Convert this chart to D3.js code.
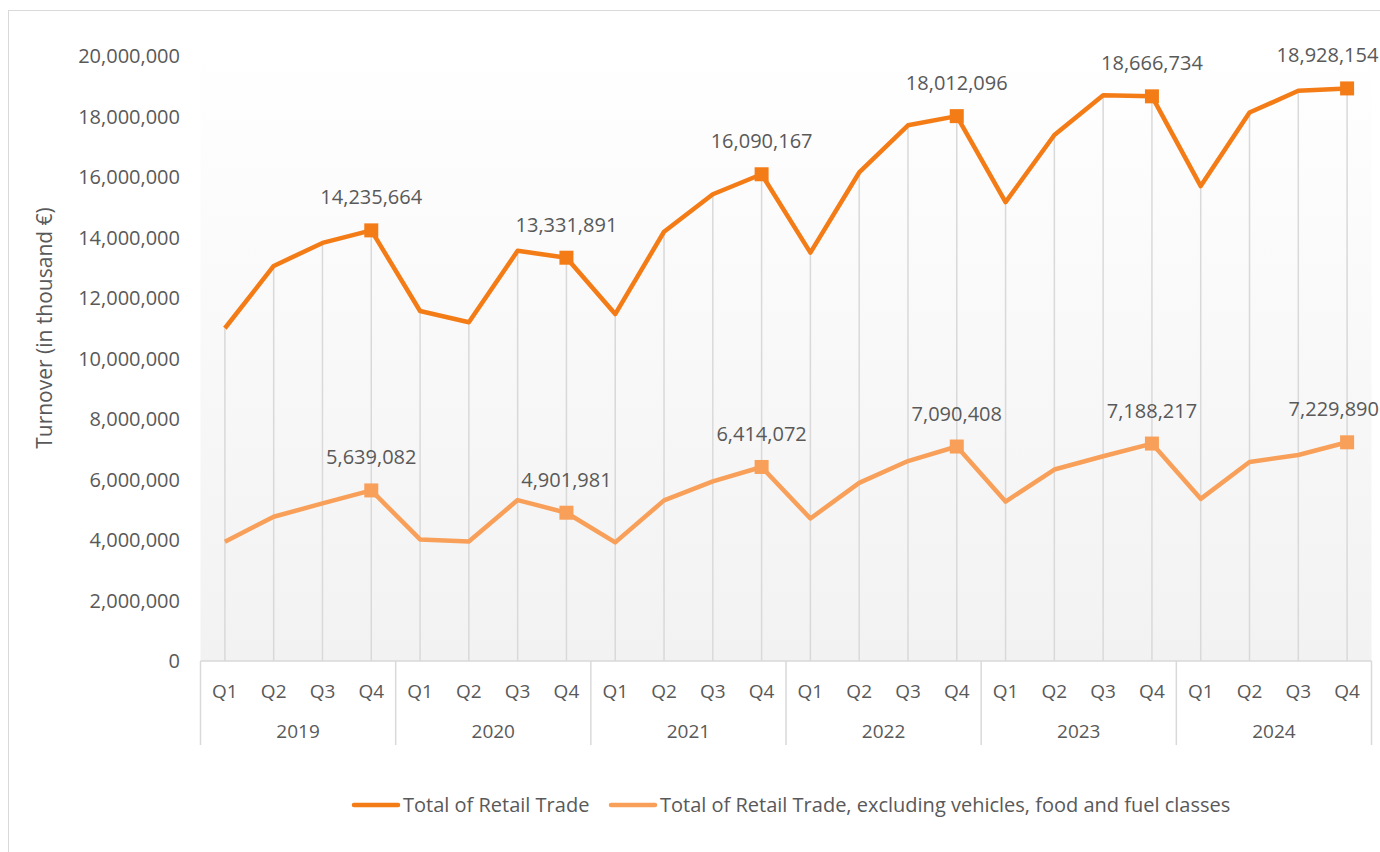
<!DOCTYPE html>
<html>
<head>
<meta charset="utf-8">
<script src="https://cdn.jsdelivr.net/npm/d3@7"></script>
<style>
	body { margin: 0; background: #fff; }
	text { font-family: "Open Sans", sans-serif; fill: #595959; }
</style>
</head>
<body>
<div id="chart"></div>
<script>
// data
const years = ["2019", "2020", "2021", "2022", "2023", "2024"];
const quarters = ["Q1", "Q2", "Q3", "Q4"];
const yTicks = [0, 2000000, 4000000, 6000000, 8000000, 10000000, 12000000, 14000000, 16000000, 18000000, 20000000];
const seriesNames = ["Total of Retail Trade", "Total of Retail Trade, excluding vehicles, food and fuel classes"];
const totalRetail = [
	11000000, 13060000, 13820000, 14235664,
	11570000, 11200000, 13560000, 13331891,
	11470000, 14190000, 15430000, 16090167,
	13500000, 16150000, 17710000, 18012096,
	15170000, 17390000, 18700000, 18666734,
	15700000, 18130000, 18850000, 18928154
];
const excludingClasses = [
	3940000, 4770000, 5210000, 5639082,
	4020000, 3950000, 5320000, 4901981,
	3920000, 5310000, 5940000, 6414072,
	4710000, 5890000, 6610000, 7090408,
	5270000, 6330000, 6770000, 7188217,
	5360000, 6580000, 6810000, 7229890
];

function main() {
	const W = 1380, H = 852;
	const plot = {left: 200.5, right: 1371.5, top: 56, bottom: 661};
	const colors = ["#f47c17", "#f8a05a"];

	const svg = d3.select("#chart").append("svg")
		.attr("width", W).attr("height", H);

	// chart border
	svg.append("rect")
		.attr("x", 8.5).attr("y", 10.5)
		.attr("width", W + 10).attr("height", H + 10)
		.attr("fill", "#fff").attr("stroke", "#d9d9d9");

	// keys for each quarter
	const keys = [];
	years.forEach(y => quarters.forEach(q => keys.push(y + " " + q)));

	const x = d3.scaleBand().domain(keys).range([plot.left, plot.right]);
	const xYear = d3.scaleBand().domain(years).range([plot.left, plot.right]);
	const y = d3.scaleLinear().domain([0, 20000000]).range([plot.bottom, plot.top]);
	const cx = k => x(k) + x.bandwidth() / 2;

	// plot background gradient
	const defs = svg.append("defs");
	const grad = defs.append("linearGradient").attr("id", "bg")
		.attr("x1", 0).attr("y1", 0).attr("x2", 0).attr("y2", 1);
	grad.append("stop").attr("offset", "0%").attr("stop-color", "#ffffff");
	grad.append("stop").attr("offset", "100%").attr("stop-color", "#f2f2f2");
	svg.append("rect")
		.attr("x", plot.left).attr("y", 40)
		.attr("width", plot.right - plot.left).attr("height", plot.bottom - 40)
		.attr("fill", "url(#bg)");

	// drop lines
	svg.append("g").selectAll("line")
		.data(keys)
		.join("line")
		.attr("x1", d => cx(d)).attr("x2", d => cx(d))
		.attr("y1", (d, i) => y(Math.max(totalRetail[i], excludingClasses[i])))
		.attr("y2", plot.bottom)
		.attr("stroke", "#d9d9d9").attr("stroke-width", 1.5);

	// y axis labels
	const fmt = d3.format(",");
	svg.append("g").selectAll("text")
		.data(yTicks)
		.join("text")
		.attr("x", 180).attr("y", d => y(d))
		.attr("dy", "0.35em")
		.attr("text-anchor", "end")
		.style("font-size", "20px")
		.text(d => fmt(d));

	// y axis title
	svg.append("text")
		.attr("transform", "translate(52,328) rotate(-90)")
		.attr("text-anchor", "middle")
		.style("font-size", "21px")
		.text("Turnover (in thousand €)");

	// multi-level category axis
	const axis = svg.append("g").attr("stroke", "#d9d9d9").attr("stroke-width", 1.5);
	axis.append("line")
		.attr("x1", plot.left).attr("x2", plot.right)
		.attr("y1", plot.bottom).attr("y2", plot.bottom);
	const seps = years.map(d => xYear(d)).concat([plot.right]);
	axis.selectAll(".sep")
		.data(seps)
		.join("line")
		.attr("x1", d => d).attr("x2", d => d)
		.attr("y1", plot.bottom).attr("y2", 745);

	svg.append("g").selectAll("text")
		.data(keys)
		.join("text")
		.attr("x", d => cx(d)).attr("y", 691)
		.attr("dy", "0.35em")
		.attr("text-anchor", "middle")
		.style("font-size", "19px")
		.text(d => d.split(" ")[1]);

	svg.append("g").selectAll("text")
		.data(years)
		.join("text")
		.attr("x", d => xYear(d) + xYear.bandwidth() / 2).attr("y", 731)
		.attr("dy", "0.35em")
		.attr("text-anchor", "middle")
		.style("font-size", "19px")
		.text(d => d);

	// lines
	const line = d3.line().x((d, i) => cx(keys[i])).y(d => y(d));
	[totalRetail, excludingClasses].forEach((vals, s) => {
		svg.append("path")
			.datum(vals)
			.attr("d", line)
			.attr("fill", "none")
			.attr("stroke", colors[s])
			.attr("stroke-width", 4.5)
			.attr("stroke-linejoin", "round");

		const q4 = keys.map((k, i) => ({k: k, v: vals[i]})).filter(d => d.k.endsWith("Q4"));
		svg.append("g").selectAll("rect")
			.data(q4)
			.join("rect")
			.attr("x", d => cx(d.k) - 7).attr("y", d => y(d.v) - 7)
			.attr("width", 14).attr("height", 14)
			.attr("fill", colors[s]);
		svg.append("g").selectAll("text")
			.data(q4)
			.join("text")
			.attr("x", d => cx(d.k)).attr("y", d => y(d.v) - 33)
			.attr("dy", "0.35em")
			.attr("text-anchor", "middle")
			.style("font-size", "20px")
			.text(d => fmt(d.v))
			.each(function() {
				// keep labels inside the chart, like Excel does
				const b = this.getBBox();
				const over = b.x + b.width - (W - 1);
				if (over > 0) d3.select(this).attr("x", +d3.select(this).attr("x") - over);
			});
	});

	// legend
	const legendX = [352, 609];
	seriesNames.forEach((name, s) => {
		const g = svg.append("g").attr("transform", "translate(" + legendX[s] + ",805)");
		g.append("line")
			.attr("x1", 2).attr("x2", 46)
			.attr("stroke", colors[s]).attr("stroke-width", 4.5)
			.attr("stroke-linecap", "round");
		g.append("text")
			.attr("x", 51).attr("dy", "0.35em")
			.style("font-size", "20px")
			.text(name);
	});
}

function whenDocumentLoaded(action) {
	if (document.readyState === "loading") {
		document.addEventListener("DOMContentLoaded", action);
	} else {
		action();
	}
}

whenDocumentLoaded(() => {
	main();
});
</script>
</body>
</html>
